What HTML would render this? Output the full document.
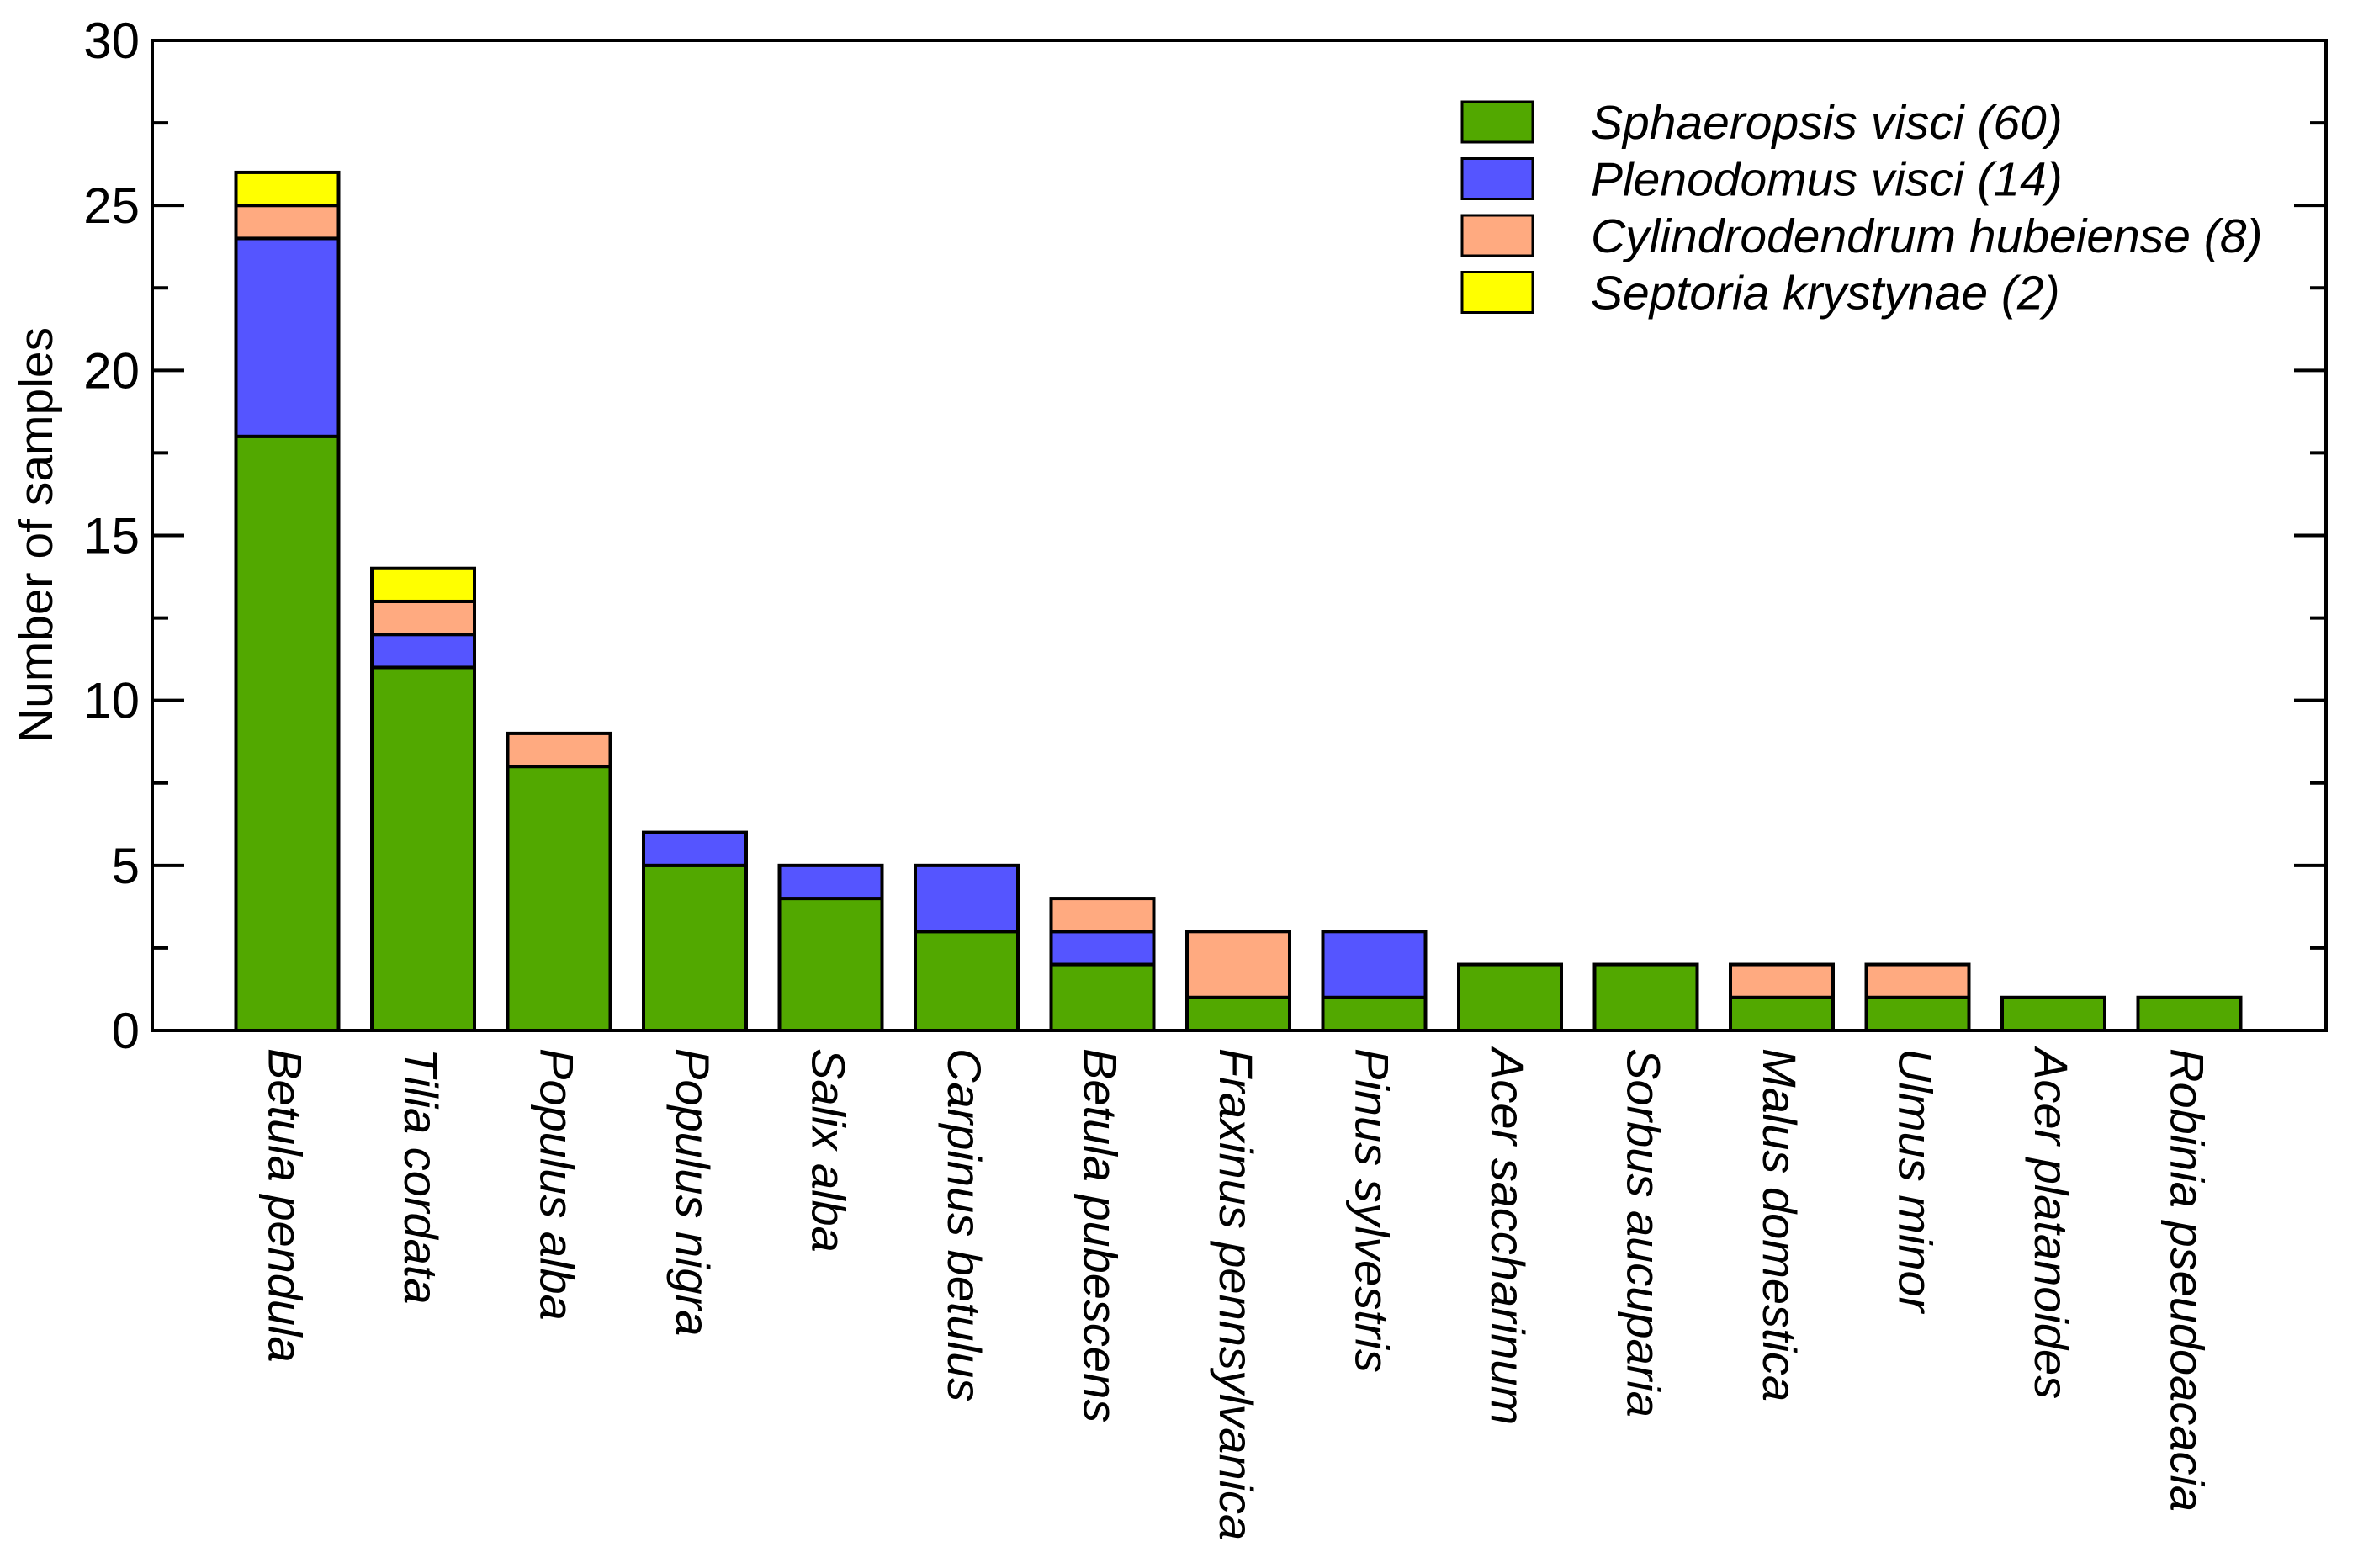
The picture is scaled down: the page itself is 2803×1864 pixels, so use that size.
<!DOCTYPE html>
<html><head><meta charset="utf-8"><style>
html,body{margin:0;padding:0;background:#fff;}
svg{display:block;font-family:"Liberation Sans",Arial,sans-serif;}
</style></head><body>
<svg id="chart" width="2803" height="1864" viewBox="0 0 2803 1864" xmlns="http://www.w3.org/2000/svg">
<g id="bars"></g>
<g id="axes"></g>
<g id="legend"></g>
<text x="0" y="0" font-size="57" text-anchor="middle" transform="translate(62,636) rotate(-90)">Number of samples</text>
</svg>
<script>
const categories = ["Betula pendula","Tilia cordata","Populus alba","Populus nigra","Salix alba","Carpinus betulus","Betula pubescens","Fraxinus pennsylvanica","Pinus sylvestris","Acer saccharinum","Sorbus aucuparia","Malus domestica","Ulmus minor","Acer platanoides","Robinia pseudoacacia"];
const sphaeropsis = [18,11,8,5,4,3,2,1,1,2,2,1,1,1,1];
const plenodomus  = [6,1,0,1,1,2,1,0,2,0,0,0,0,0,0];
const cylindro    = [1,1,1,0,0,0,1,2,0,0,0,1,1,0,0];
const septoria    = [1,1,0,0,0,0,0,0,0,0,0,0,0,0,0];
const seriesNames = ["Sphaeropsis visci (60)","Plenodomus visci (14)","Cylindrodendrum hubeiense (8)","Septoria krystynae (2)"];
const yTicks = [0,5,10,15,20,25,30];

const NS="http://www.w3.org/2000/svg";
const colors=["#52A800","#5555FF","#FFAA80","#FFFF00"];
const L=181,R=2765,T=48,B=1225,yMax=30;
const yS=v=>B-(v/yMax)*(B-T);
const xC=i=>341.5+i*161.5;
const bw=122;
function mk(tag,attrs,parent){const e=document.createElementNS(NS,tag);for(const k in attrs)e.setAttribute(k,attrs[k]);parent.appendChild(e);return e;}
const bars=document.getElementById('bars'),axes=document.getElementById('axes'),legend=document.getElementById('legend');
const series=[sphaeropsis,plenodomus,cylindro,septoria];
categories.forEach((c,i)=>{
  let base=0;
  series.forEach((s,k)=>{
    const v=s[i]; if(!v) return;
    const r=mk('rect',{x:xC(i)-bw/2,y:yS(base+v),width:bw,height:yS(base)-yS(base+v),fill:colors[k],stroke:'#000','stroke-width':4},bars);
    
    
    base+=v;
  });
  const t=mk('text',{x:0,y:0,'font-size':56,'font-style':'italic',transform:`translate(${xC(i)-22},1246) rotate(90)`},axes);
  
  
  t.textContent=c;
});
const f=mk('rect',{x:L,y:T,width:R-L,height:B-T,fill:'none',stroke:'#000','stroke-width':4},axes);


for(let v=0;v<=yMax;v+=2.5){
  const major=(v%5===0), len=major?38:19, y=yS(v);
  const t1=mk('line',{x1:L,x2:L+len,y1:y,y2:y,stroke:'#000','stroke-width':4},axes);
  
  
  const t2=mk('line',{x1:R,x2:R-len,y1:y,y2:y,stroke:'#000','stroke-width':4},axes);
  
  
}
yTicks.forEach(v=>{
  const t=mk('text',{x:166,y:yS(v)+21,'font-size':60,'text-anchor':'end'},axes);
  
  
  t.textContent=v;
});
seriesNames.forEach((n,k)=>{
  const y=121+k*67.5;
  const r=mk('rect',{x:1738,y:y,width:84,height:48,fill:colors[k],stroke:'#000','stroke-width':3},legend);
  
  
  const t=mk('text',{x:1891,y:y+44,'font-size':57,'font-style':'italic'},legend);
  
  
  t.textContent=n;
});
</script>
</body></html>
